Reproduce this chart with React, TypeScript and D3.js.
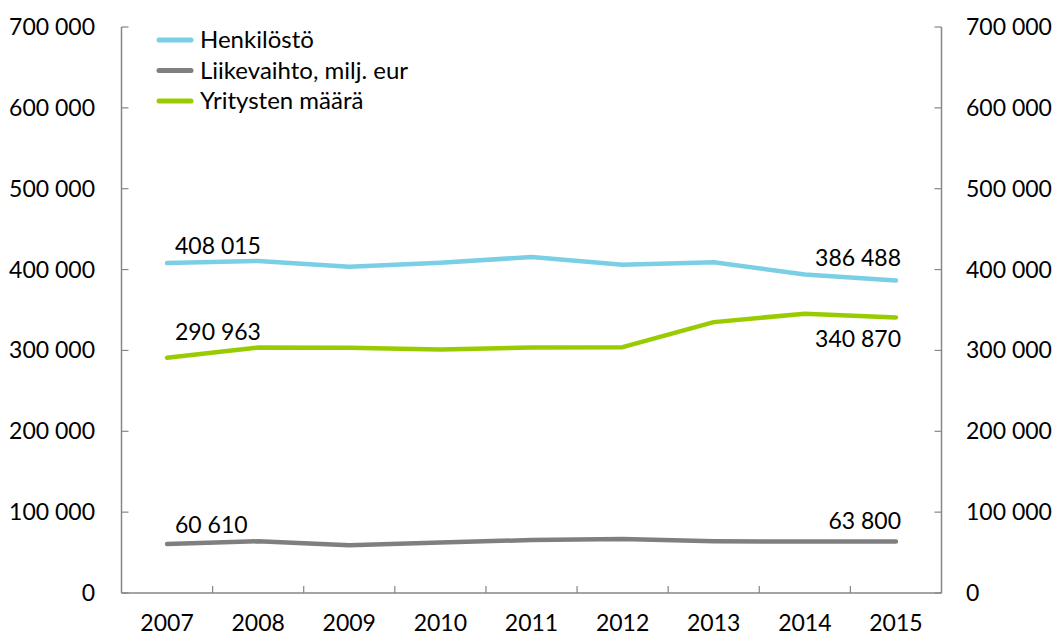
import React from "react";
import * as d3 from "d3";

const years = ["2007", "2008", "2009", "2010", "2011", "2012", "2013", "2014", "2015"];
const henkilosto = [408015, 410600, 403500, 408500, 415500, 406000, 409000, 394000, 386488];
const liikevaihto = [60610, 64000, 59000, 62500, 65500, 66700, 64000, 63700, 63800];
const yritykset = [290963, 303500, 303300, 301300, 303500, 304000, 335000, 345500, 340870];
const yTicks = [0, 100000, 200000, 300000, 400000, 500000, 600000, 700000];
const seriesNames = ["Henkilöstö", "Liikevaihto, milj. eur", "Yritysten määrä"];
const colors = ["#7ACFE4", "#7F7F7F", "#99CC00"];

const W = 1061, H = 637;
const left = 121.5, right = 941.5, top = 27, bottom = 593;
const FONT = "Lato, 'Open Sans', sans-serif";

const fmt = (v: number) => {
  const s = Math.round(v).toString();
  return s.replace(/\B(?=(\d{3})+(?!\d))/g, " ");
};

export default function App() {
  const x = d3.scaleBand<string>().domain(years).range([left, right]);
  const y = d3.scaleLinear().domain([0, 700000]).range([bottom, top]);
  const cx = (i: number) => (x(years[i]) as number) + x.bandwidth() / 2;
  const line = d3.line<number>().x((_, i) => cx(i)).y((d) => y(d));
  const data = [henkilosto, liikevaihto, yritykset];
  const axisColor = "#868686";
  const fs = 23;
  const n = years.length - 1;

  return (
    <svg width={W} height={H} style={{ position: "absolute", left: 0, top: 0, background: "#fff" }} fontFamily={FONT}>
      {/* axes */}
      <line x1={left} x2={left} y1={top} y2={bottom} stroke={axisColor} strokeWidth={1.5} />
      <line x1={right} x2={right} y1={top} y2={bottom} stroke={axisColor} strokeWidth={1.5} />
      <line x1={left} x2={right} y1={bottom} y2={bottom} stroke={axisColor} strokeWidth={1.5} />
      {yTicks.map((t) => (
        <g key={t}>
          <line x1={left} x2={left + 7} y1={y(t)} y2={y(t)} stroke={axisColor} strokeWidth={1.2} />
          <line x1={right - 7} x2={right} y1={y(t)} y2={y(t)} stroke={axisColor} strokeWidth={1.2} />
          <text x={95} y={y(t)} dy="0.35em" textAnchor="end" fontSize={fs} fill="#000">{fmt(t)}</text>
          <text x={966} y={y(t)} dy="0.35em" textAnchor="start" fontSize={fs} fill="#000">{fmt(t)}</text>
        </g>
      ))}
      {years.slice(1).map((yr) => (
        <line key={yr} x1={x(yr) as number} x2={x(yr) as number} y1={bottom} y2={bottom - 7} stroke={axisColor} strokeWidth={1.2} />
      ))}
      {years.map((yr, i) => (
        <text key={yr} x={cx(i)} y={631} textAnchor="middle" fontSize={fs} fill="#000">{yr}</text>
      ))}
      {/* lines */}
      {data.map((d, k) => (
        <path key={k} d={line(d) as string} fill="none" stroke={colors[k]} strokeWidth={4.5} strokeLinecap="round" strokeLinejoin="round" />
      ))}
      {/* data labels */}
      <text x={175} y={y(henkilosto[0]) - 9} fontSize={fs} fill="#000">{fmt(henkilosto[0])}</text>
      <text x={175} y={y(yritykset[0]) - 18} fontSize={fs} fill="#000">{fmt(yritykset[0])}</text>
      <text x={175} y={y(liikevaihto[0]) - 11} fontSize={fs} fill="#000">{fmt(liikevaihto[0])}</text>
      <text x={901} y={y(henkilosto[n]) - 14} textAnchor="end" fontSize={fs} fill="#000">{fmt(henkilosto[n])}</text>
      <text x={901} y={y(yritykset[n]) + 30} textAnchor="end" fontSize={fs} fill="#000">{fmt(yritykset[n])}</text>
      <text x={901} y={y(liikevaihto[n]) - 12} textAnchor="end" fontSize={fs} fill="#000">{fmt(liikevaihto[n])}</text>
      {/* legend */}
      {seriesNames.map((s, k) => (
        <g key={s}>
          <line x1={159} x2={191} y1={40 + k * 30.5} y2={40 + k * 30.5} stroke={colors[k]} strokeWidth={5} strokeLinecap="round" />
          <text x={200} y={40 + k * 30.5} dy="0.35em" fontSize={24} fill="#000">{s}</text>
        </g>
      ))}
    </svg>
  );
}
